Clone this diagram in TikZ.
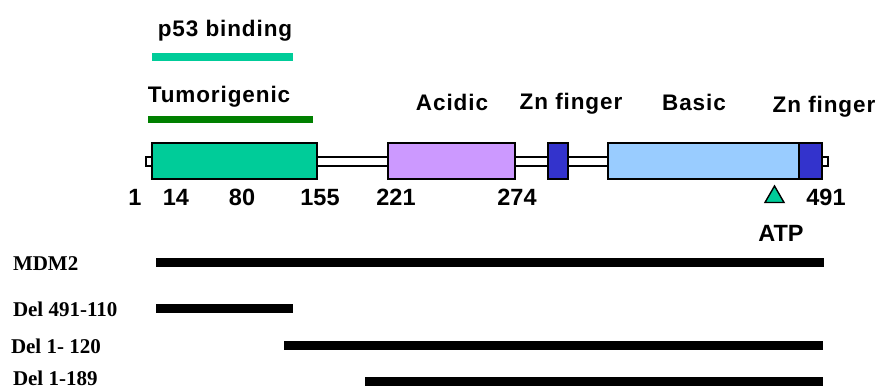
\documentclass[tikz,border=0pt]{standalone}
\usepackage{fontspec}
\setmainfont{Liberation Serif}
\newfontfamily\domfont{Liberation Sans}[LetterSpace=4]
\newfontfamily\numfont{Liberation Sans}
\usetikzlibrary{shapes.geometric}
\definecolor{tumorgreen}{HTML}{00CC99}
\definecolor{acidpurple}{HTML}{CC99FF}
\definecolor{zinkblue}{HTML}{3333CC}
\definecolor{basicblue}{HTML}{99CCFF}
\definecolor{darkgreen}{HTML}{008000}
\tikzset{x=1pt,y=-1pt,
    every node/.style={
        inner sep=0pt,
        outer sep=0pt},
    dombox/.style={
        draw,
        line width=1.6pt,
        minimum height=36pt},
    dlabel/.style={
        anchor=base,
        font=\domfont\bfseries\fontsize{22.5}{26}\selectfont},
    aapos/.style={
        anchor=base,
        font=\numfont\bfseries\fontsize{23.5}{26}\selectfont},
    construct/.style={
        anchor=base west,
        font=\bfseries\fontsize{21}{24}\selectfont},
    region/.style={
        line width=7.5pt},
    bar/.style={
        line width=9pt}}

\begin{document}
\begin{tikzpicture}
        \useasboundingbox (0,0) rectangle (877,390);

        % binding regions
        \node[dlabel] (p53lbl) at (225,37) {p53 binding};
        \coordinate (p53w) at (152,57);
        \coordinate (p53e) at (293,57);
        \draw[region,tumorgreen] (p53w) -- (p53e);

        \node[dlabel] (tumlbl) at (219,103) {Tumorigenic};
        \coordinate (tumw) at (148,119.5);
        \coordinate (tume) at (313,119.5);
        \draw[region,darkgreen] (tumw) -- (tume);

        % protein
        \node[draw,line width=1.4pt,fill=white,minimum width=682pt,minimum height=9pt] (backbone) at (487,161.5) {};
        \node[dombox,fill=tumorgreen,minimum width=165pt] (tum) at (234.5,161) {};
        \node[dombox,fill=acidpurple,minimum width=127pt] (acid) at (451.5,161) {};
        \node[dombox,fill=zinkblue,minimum width=20pt] (zna) at (558,161) {};
        \node[dombox,fill=basicblue,minimum width=191pt] (basic) at (703.5,161) {};
        \node[dombox,fill=zinkblue,minimum width=23pt] (znb) at (810.5,161) {};

        \node[dlabel] (acidlbl) at (452,111) {Acidic};
        \node[dlabel] (znalbl) at (571,110) {Zn finger};
        \node[dlabel] (basiclbl) at (694,111) {Basic};
        \node[dlabel] (znblbl) at (824,113) {Zn finger};

        % residues
        \node[aapos] (p1) at (135,205) {1};
        \node[aapos] (p14) at (176,205) {14};
        \node[aapos] (p80) at (242,205) {80};
        \node[aapos] (p155) at (320,205) {155};
        \node[aapos] (p221) at (396,205) {221};
        \node[aapos] (p274) at (517,205) {274};
        \node[aapos] (p491) at (826,205) {491};

        \node[draw,line width=1.4pt,fill=tumorgreen,regular polygon,regular polygon sides=3,minimum size=22pt] (atp) at (774.5,197) {};
        \node[aapos] (atplbl) at (781,241) {ATP};

        % constructs
        \node[construct] (mdm) at (13,270) {MDM2};
        \coordinate (mdmw) at (156,262.5);
        \coordinate (mdme) at (824,262.5);
        \draw[bar] (mdmw) -- (mdme);

        \node[construct] (dela) at (13,316) {Del 491-110};
        \coordinate (delaw) at (156,308);
        \coordinate (delae) at (293,308);
        \draw[bar] (delaw) -- (delae);

        \node[construct] (delb) at (11,353) {Del 1- 120};
        \coordinate (delbw) at (284,345);
        \coordinate (delbe) at (823,345);
        \draw[bar] (delbw) -- (delbe);

        \node[construct] (delc) at (13,385.5) {Del 1-189};
        \coordinate (delcw) at (365,381);
        \coordinate (delce) at (823,381);
        \draw[bar] (delcw) -- (delce);
    \end{tikzpicture}
\end{document}
